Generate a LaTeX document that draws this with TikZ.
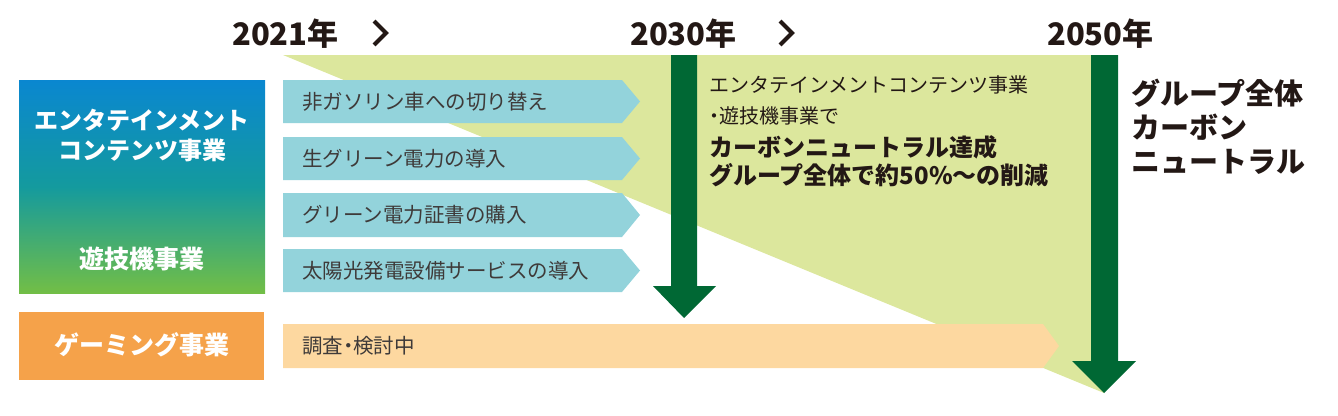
\documentclass[tikz,border=0pt]{standalone}
\usepackage{fontspec}
\setmainfont{Noto Sans CJK JP}
\definecolor{ltgreen}{HTML}{DCE79D}
\definecolor{dkgreen}{HTML}{006834}
\definecolor{barblue}{HTML}{93D3DB}
\definecolor{barorange}{HTML}{FDD8A0}
\definecolor{boxorange}{HTML}{F5A24A}
\definecolor{gtop}{HTML}{0A87D0}
\definecolor{gmid}{HTML}{149A9E}
\definecolor{gbot}{HTML}{72BE46}
\definecolor{ink}{HTML}{231815}
\definecolor{barink}{HTML}{3E3A39}
\newcommand{\narrowdot}{{\addfontfeature{RawFeature=+palt}・}}
\tikzset{
  yearlbl/.style={anchor=west,inner sep=0pt,text=ink,font=\fontsize{31}{31}\selectfont\bfseries},
  chev/.style={draw=ink,line width=4pt,miter limit=10},
  bartxt/.style={anchor=west,inner sep=0pt,text=barink,font=\fontsize{20.5}{20.5}\selectfont},
  boxtxt/.style={inner sep=0pt,text=white,font=\fontsize{24}{24}\selectfont\bfseries},
  midtxt/.style={anchor=west,inner sep=0pt,text=ink,font=\fontsize{20}{20}\selectfont},
  midbold/.style={anchor=west,inner sep=0pt,text=ink,font=\fontsize{24}{24}\selectfont\bfseries},
  righttxt/.style={anchor=west,inner sep=0pt,text=ink,font=\fontsize{29}{29}\selectfont\bfseries},
}
\begin{document}
\begin{tikzpicture}[x=1pt,y=-1pt]
\useasboundingbox (0,0) rectangle (1338,415);
% light green wedge
\fill[ltgreen] (283,55) -- (1104,55) -- (1104,393) -- cycle;
% left boxes
\shade[top color=gtop,bottom color=gbot,middle color=gmid] (19,80) rectangle (265,293);
\fill[boxorange] (19,312) rectangle (264,380);
% blue bars
\foreach \t/\b in {80/123,137/180,193/237,249/292}{
  \fill[barblue] (283,\t) -- (622,\t) -- (640,{(\t+\b)/2}) -- (622,\b) -- (283,\b) -- cycle;
}
% orange bar
\fill[barorange] (283,324) -- (1043,324) -- (1059,346) -- (1043,368) -- (283,368) -- cycle;
% big arrows
\fill[dkgreen] (671,55) -- (697,55) -- (697,286) -- (716,286) -- (684,318) -- (653,286) -- (671,286) -- cycle;
\fill[dkgreen] (1091,55) -- (1118,55) -- (1118,361) -- (1136,361) -- (1104,393) -- (1072,361) -- (1091,361) -- cycle;
% year labels
\node[yearlbl] (y2021) at (232,34) {2021年};
\node[yearlbl] (y2030) at (630,34) {2030年};
\node[yearlbl] (y2050) at (1047,34) {2050年};
\draw[chev] (374,21) -- (386,33) -- (374,45);
\draw[chev] (780,21) -- (792,33) -- (780,45);
% left box texts
\node[boxtxt] (ent1) at (142,120) {エンタテインメント};
\node[boxtxt] (ent2) at (142,150) {コンテンツ事業};
\node[boxtxt,font=\fontsize{25}{25}\selectfont\bfseries] (yugi) at (142,259) {遊技機事業};
\node[boxtxt,font=\fontsize{25}{25}\selectfont\bfseries] (game) at (142,345) {ゲーミング事業};
% bar texts
\node[bartxt] (b1) at (302,101.5) {非ガソリン車への切り替え};
\node[bartxt] (b2) at (302,158.5) {生グリーン電力の導入};
\node[bartxt] (b3) at (302,215) {グリーン電力証書の購入};
\node[bartxt] (b4) at (302,270.5) {太陽光発電設備サービスの導入};
\node[bartxt] (b5) at (302,346) {調査\narrowdot 検討中};
% middle texts
\node[midtxt] (m1) at (709,85) {エンタテインメントコンテンツ事業};
\node[midtxt] (m2) at (709,116) {\narrowdot 遊技機事業で};
\node[midbold] (m3) at (709,147) {カーボンニュートラル達成};
\node[midbold] (m4) at (709,175) {グループ全体で約50\%〜の削減};
% right texts
\node[righttxt] (r1) at (1131,93) {グループ全体};
\node[righttxt] (r2) at (1131,127) {カーボン};
\node[righttxt] (r3) at (1131,162) {ニュートラル};
\end{tikzpicture}
\end{document}
